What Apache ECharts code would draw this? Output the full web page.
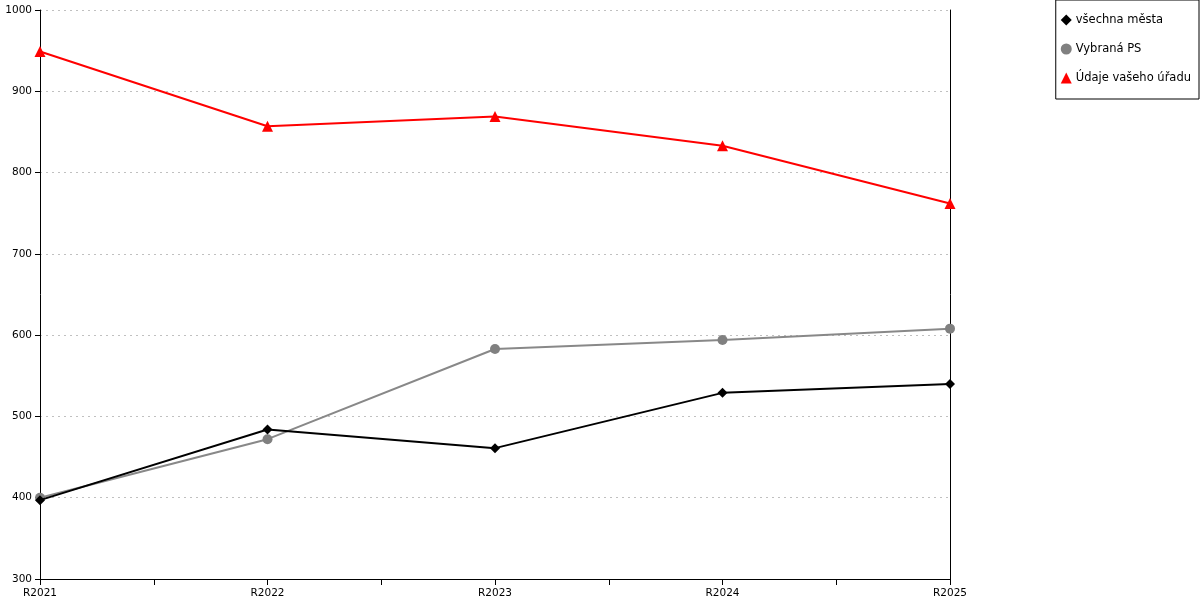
<!DOCTYPE html>
<html>
<head>
<meta charset="utf-8">
<script src="https://cdn.jsdelivr.net/npm/echarts@6/dist/echarts.min.js"></script>
<style>html,body{margin:0;padding:0;background:#fff}#c{width:1200px;height:600px}</style>
</head>
<body>
<div id="c"></div>
<script>
var categories = ['R2021', 'R2022', 'R2023', 'R2024', 'R2025'];
var seriesNames = ['všechna města', 'Vybraná PS', 'Údaje vašeho úřadu'];
var vsechnaMesta = [397, 484, 461, 529, 540];
var vybranaPS = [400, 472, 583, 594, 608];
var udajeUradu = [949, 857, 869, 833, 762];
var yTicks = [300, 400, 500, 600, 700, 800, 900, 1000];

function pairs(arr) { return arr.map(function (v, i) { return [i, v]; }); }

var font = 'DejaVu Sans';
var chart = echarts.init(document.getElementById('c'));
chart.setOption({
  animation: false,
  textStyle: { fontFamily: font },
  grid: { left: 40, right: 250, top: 10, bottom: 21 },
  legend: {
    orient: 'vertical', right: 1, top: 0,
    padding: [14, 8, 15, 5],
    borderColor: '#000', borderWidth: 1, borderRadius: 0,
    itemWidth: 11, itemHeight: 11, itemGap: 17,
    textStyle: { fontFamily: font, fontSize: 11.5, color: '#000', padding: [0, 0, 0, -1] },
    data: [
      { name: seriesNames[0], icon: 'diamond' },
      { name: seriesNames[1], icon: 'circle' },
      { name: seriesNames[2], icon: 'triangle' }
    ]
  },
  xAxis: {
    type: 'value', min: 0, max: categories.length - 1, interval: 0.5,
    splitLine: { show: false },
    axisLine: { show: true, lineStyle: { color: '#000', width: 1 } },
    axisTick: { show: true, length: 6, lineStyle: { color: '#000' } },
    axisLabel: {
      color: '#000', fontSize: 10.5, margin: 9, showMinLabel: true, showMaxLabel: true,
      formatter: function (v) { return Number.isInteger(v) ? categories[v] : ''; }
    }
  },
  yAxis: [{
    type: 'value', min: yTicks[0], max: yTicks[yTicks.length - 1], interval: 100,
    axisLine: { show: true, lineStyle: { color: '#000', width: 1 } },
    axisTick: { show: true, length: 5, lineStyle: { color: '#000' } },
    axisLabel: { color: '#000', fontSize: 10.5, margin: 8, formatter: function (v) { return String(v); } },
    splitLine: { show: true, lineStyle: { color: '#c0c0c0', type: [2, 4], width: 1 } }
  }, {
    type: 'value', position: 'right', min: yTicks[0], max: yTicks[yTicks.length - 1], interval: 100,
    axisLine: { show: true, lineStyle: { color: '#000', width: 1 } },
    axisTick: { show: false }, axisLabel: { show: false }, splitLine: { show: false }
  }],
  series: [
    {
      name: seriesNames[0], type: 'line', data: pairs(vsechnaMesta),
      symbol: 'diamond', symbolSize: 10, z: 4,
      lineStyle: { color: '#000', width: 2 }, itemStyle: { color: '#000' }
    },
    {
      name: seriesNames[1], type: 'line', data: pairs(vybranaPS),
      symbol: 'circle', symbolSize: 10, z: 3,
      lineStyle: { color: '#888', width: 2 }, itemStyle: { color: '#808080' }
    },
    {
      name: seriesNames[2], type: 'line', data: pairs(udajeUradu),
      symbol: 'triangle', symbolSize: 11, z: 5,
      lineStyle: { color: '#ff0000', width: 2 }, itemStyle: { color: '#ff0000' }
    }
  ]
});
</script>
</body>
</html>
